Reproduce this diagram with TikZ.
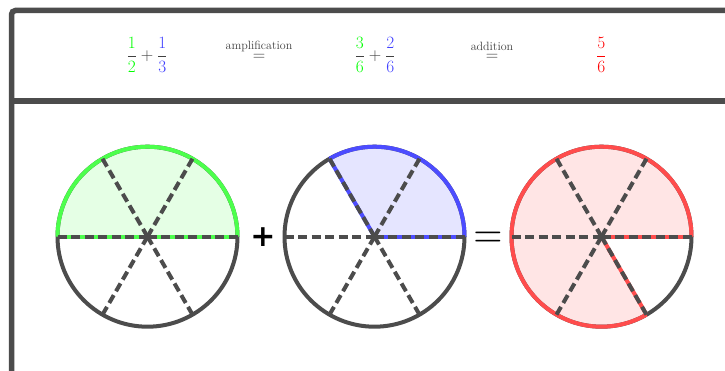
\documentclass[tikz,border=0pt]{standalone}
\usepackage{amsmath}
\usepackage{fontspec}
\newfontfamily\opfont{DejaVu Sans}
\begin{document}
\begin{tikzpicture}[x=1pt,y=1pt,
  frame/.style={line width=5.5pt, draw=black!70},
  rim/.style={line width=4pt, draw=black!70},
  spoke/.style={line width=4pt, draw=black!70, dash pattern=on 9pt off 4.5pt},
  under/.style={line width=4pt},
  hdr/.style={anchor=base, inner sep=0pt, font=\LARGE, text=black!75},
  op/.style={inner sep=0pt, text=black}
]
\useasboundingbox (0,0) rectangle (725,370);
\clip (0,0) rectangle (725,370);
\fill[white] (0,0) rectangle (725,370);
% frame
\draw[frame, rounded corners=4pt] (11.5,-10) -- (11.5,359.5) -- (745,359.5);
\draw[frame] (11.5,269) -- (745,269);
% header
\node[hdr] (h1) at (147,309.7) {$\dfrac{\color{green}1}{\color{green}2}+\dfrac{\color{blue!75}1}{\color{blue!75}3}$};
\node[hdr] (h2) at (259,309.7) {$\stackrel{\text{amplification}}{=}$};
\node[hdr] (h3) at (375,309.7) {$\dfrac{\color{green}3}{\color{green}6}+\dfrac{\color{blue!75}2}{\color{blue!75}6}$};
\node[hdr] (h4) at (492,309.7) {$\stackrel{\text{addition}}{=}$};
\node[hdr] (h5) at (601.3,309.7) {$\color{red}\dfrac{5}{6}$};
% centres
\coordinate (c1) at (147.5,133.3);
\coordinate (c2) at (374.5,133.3);
\coordinate (c3) at (601.5,133.3);
% circle 1 : 1/2
\fill[green!10] ([shift={(0:90)}]c1) arc[start angle=0,end angle=180,radius=90] -- cycle;
\draw[rim] (c1) circle[radius=90];
\draw[under, draw=green!70] ([shift={(0:90)}]c1) arc[start angle=0,end angle=180,radius=90];
\draw[under, draw=green!70] ([shift={(180:90)}]c1) -- ([shift={(0:90)}]c1);
\foreach \a in {0,60,120,180,240,300}
  \draw[spoke] ([shift={(\a:90)}]c1) -- (c1);
% circle 2 : 1/3
\fill[blue!10] (c2) -- ([shift={(0:90)}]c2) arc[start angle=0,end angle=120,radius=90] -- cycle;
\draw[rim] (c2) circle[radius=90];
\draw[under, draw=blue!70] ([shift={(0:90)}]c2) arc[start angle=0,end angle=120,radius=90];
\draw[under, draw=blue!70] (c2) -- ([shift={(0:90)}]c2);
\draw[under, draw=blue!70] (c2) -- ([shift={(120:90)}]c2);
\foreach \a in {0,60,120,180,240,300}
  \draw[spoke] ([shift={(\a:90)}]c2) -- (c2);
% circle 3 : 5/6
\fill[red!10] (c3) -- ([shift={(0:90)}]c3) arc[start angle=0,end angle=300,radius=90] -- cycle;
\draw[rim] (c3) circle[radius=90];
\draw[under, draw=red!70] ([shift={(0:90)}]c3) arc[start angle=0,end angle=300,radius=90];
\draw[under, draw=red!70] (c3) -- ([shift={(0:90)}]c3);
\draw[under, draw=red!70] (c3) -- ([shift={(300:90)}]c3);
\foreach \a in {0,60,120,180,240,300}
  \draw[spoke] ([shift={(\a:90)}]c3) -- (c3);
% operators
\node[op, font={\opfont\bfseries\fontsize{30}{32}\selectfont}] (plus) at (263,132.5) {+};
\node[op, font=\Huge, xscale=1.6, yscale=1.85] (eq) at (488,129.5) {$=$};
\end{tikzpicture}
\end{document}
